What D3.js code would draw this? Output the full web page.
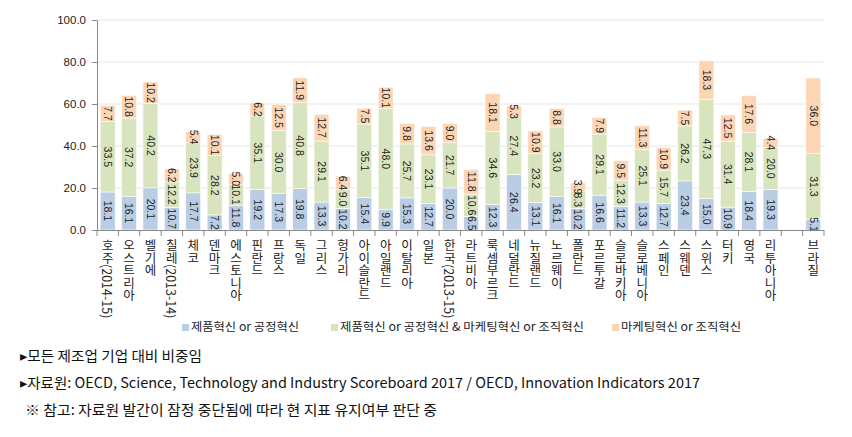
<!DOCTYPE html>
<html><head><meta charset="utf-8">
<script src="https://cdn.jsdelivr.net/npm/d3@7"></script>
<style>
body{margin:0;background:#fff;}
svg{display:block;font-family:"Noto Sans CJK KR","Noto Sans",sans-serif;}
</style></head><body>
<svg id="c" width="852" height="437"></svg>
<script>
const categories = ["호주(2014-15)","오스트리아","벨기에","칠레(2013-14)","체코","덴마크","에스토니아","핀란드","프랑스","독일","그리스","헝가리","아이슬란드","아일랜드","이탈리아","일본","한국(2013-15)","라트비아","룩셈부르크","네덜란드","뉴질랜드","노르웨이","폴란드","포르투갈","슬로바키아","슬로베니아","스페인","스웨덴","스위스","터키","영국","리투아니아","","브라질"];
const productOrProcess = [18.1,16.1,20.1,10.7,17.7,7.2,11.8,19.2,17.3,19.8,13.3,10.2,15.4,9.9,15.3,12.7,20.0,6.5,12.3,26.4,13.1,16.1,10.2,16.6,11.2,13.3,12.7,23.4,15.0,10.9,18.4,19.3,null,5.1];
const both = [33.5,37.2,40.2,12.2,23.9,28.2,10.1,35.1,30.0,40.8,29.1,9.0,35.1,48.0,25.7,23.1,21.7,10.6,34.6,27.4,23.2,33.0,8.3,29.1,12.3,25.1,15.7,26.2,47.3,31.4,28.1,20.0,null,31.3];
const marketingOrOrg = [7.7,10.8,10.2,6.2,5.4,10.1,5.0,6.2,12.5,11.9,12.7,6.4,7.5,10.1,9.8,13.6,9.0,11.8,18.1,5.3,10.9,8.8,3.9,7.9,9.5,11.3,10.9,7.5,18.3,12.5,17.6,4.4,null,36.0];
const seriesNames = ["제품혁신 or 공정혁신","제품혁신 or 공정혁신 & 마케팅혁신 or 조직혁신","마케팅혁신 or 조직혁신"];
const colors = ["#B9CDE5","#D7E4BD","#FCD5B5"];
const yTicks = [0,20,40,60,80,100];
const notes = ["▸모든 제조업 기업 대비 비중임","▸자료원: OECD, Science, Technology and Industry Scoreboard 2017 / OECD, Innovation Indicators 2017","※ 참고: 자료원 발간이 잠정 중단됨에 따라 현 지표 유지여부 판단 중"];

const svg = d3.select("#c");
const keys = categories.map((c,i)=> c===""? "__blank"+i : c);
const x = d3.scaleBand().domain(keys).range([97,824]).paddingInner(0.3).paddingOuter(0.15);
const y = d3.scaleLinear().domain([0,100]).range([230,20]);

// grid
svg.append("g").selectAll("line").data(yTicks.slice(1)).join("line")
  .attr("x1",97).attr("x2",824).attr("y1",d=>y(d)).attr("y2",d=>y(d))
  .attr("stroke","#e6e6e6").attr("stroke-width",1);

// y axis
const ya = svg.append("g").attr("transform","translate(97,0)")
  .call(d3.axisLeft(y).tickValues(yTicks).tickFormat(d3.format(".1f")).tickSize(5).tickSizeOuter(0));
ya.select(".domain").attr("stroke","#888");
ya.selectAll(".tick line").attr("stroke","#888");
ya.selectAll("text").attr("font-size",11.5).attr("fill","#222").attr("font-family","Liberation Sans, Arial, sans-serif").attr("dx",-3);

// stacked data
const rows = keys.map((k,i)=>({key:k, s0:productOrProcess[i], s1:both[i], s2:marketingOrOrg[i]}));
const stack = d3.stack().keys(["s0","s1","s2"]).value((d,k)=>d[k]||0);
const layers = stack(rows);
const g = svg.append("g");
layers.forEach((layer,li)=>{
  g.append("g").selectAll("rect").data(layer.filter(d=>d.data[layer.key]!=null)).join("rect")
    .attr("x",d=>x(d.data.key)).attr("width",x.bandwidth())
    .attr("y",d=>y(d[1])).attr("height",d=>y(d[0])-y(d[1]))
    .attr("fill",colors[li]).attr("stroke","#fff").attr("stroke-width",0.6);
});
layers.forEach((layer,li)=>{
  g.append("g").selectAll("text").data(layer.filter(d=>d.data[layer.key]!=null)).join("text")
    .attr("transform",d=>`translate(${x(d.data.key)+x.bandwidth()/2},${(y(d[0])+y(d[1]))/2}) rotate(90)`)
    .attr("text-anchor","middle").attr("dy","0.35em")
    .attr("font-size",10.5).attr("fill","#222").attr("font-family","Liberation Sans, Arial, sans-serif")
    .text(d=>d3.format(".1f")(d.data[layer.key]));
});

// x axis
svg.append("line").attr("x1",97).attr("x2",824).attr("y1",230.5).attr("y2",230.5).attr("stroke","#888");
const step = x.step();
const bounds = d3.range(keys.length+1).map(i=>97 + i*step);
svg.append("g").selectAll("line").data(bounds).join("line")
  .attr("x1",d=>d).attr("x2",d=>d).attr("y1",230).attr("y2",236).attr("stroke","#888");

// category labels (vertical)
svg.append("g").selectAll("text").data(categories).join("text")
  .attr("x",(d,i)=>x(keys[i])+x.bandwidth()/2).attr("y",239)
  .style("writing-mode","vertical-rl").style("text-orientation","mixed")
  .attr("font-size",12.5).attr("fill","#222")
  .text(d=>d);

// legend
const legX = [182,331,612];
const legW = [108,244,120];
const leg = svg.append("g");
seriesNames.forEach((n,i)=>{
  leg.append("rect").attr("x",legX[i]).attr("y",324).attr("width",7).attr("height",7).attr("fill",colors[i]);
  leg.append("text").attr("x",legX[i]+9).attr("y",331).attr("font-size",11.5).attr("fill","#222")
    .attr("textLength",legW[i]).attr("lengthAdjust","spacingAndGlyphs").text(n);
});

// notes
const noteX = [20,20,25];
const noteY = [361,388,415];
const noteW = [182,680,412];
notes.forEach((t,i)=>{
  svg.append("text").attr("x",noteX[i]).attr("y",noteY[i]).attr("font-size",14).attr("fill","#111")
    .attr("textLength",noteW[i]).attr("lengthAdjust","spacingAndGlyphs").text(t);
});
</script></body></html>
